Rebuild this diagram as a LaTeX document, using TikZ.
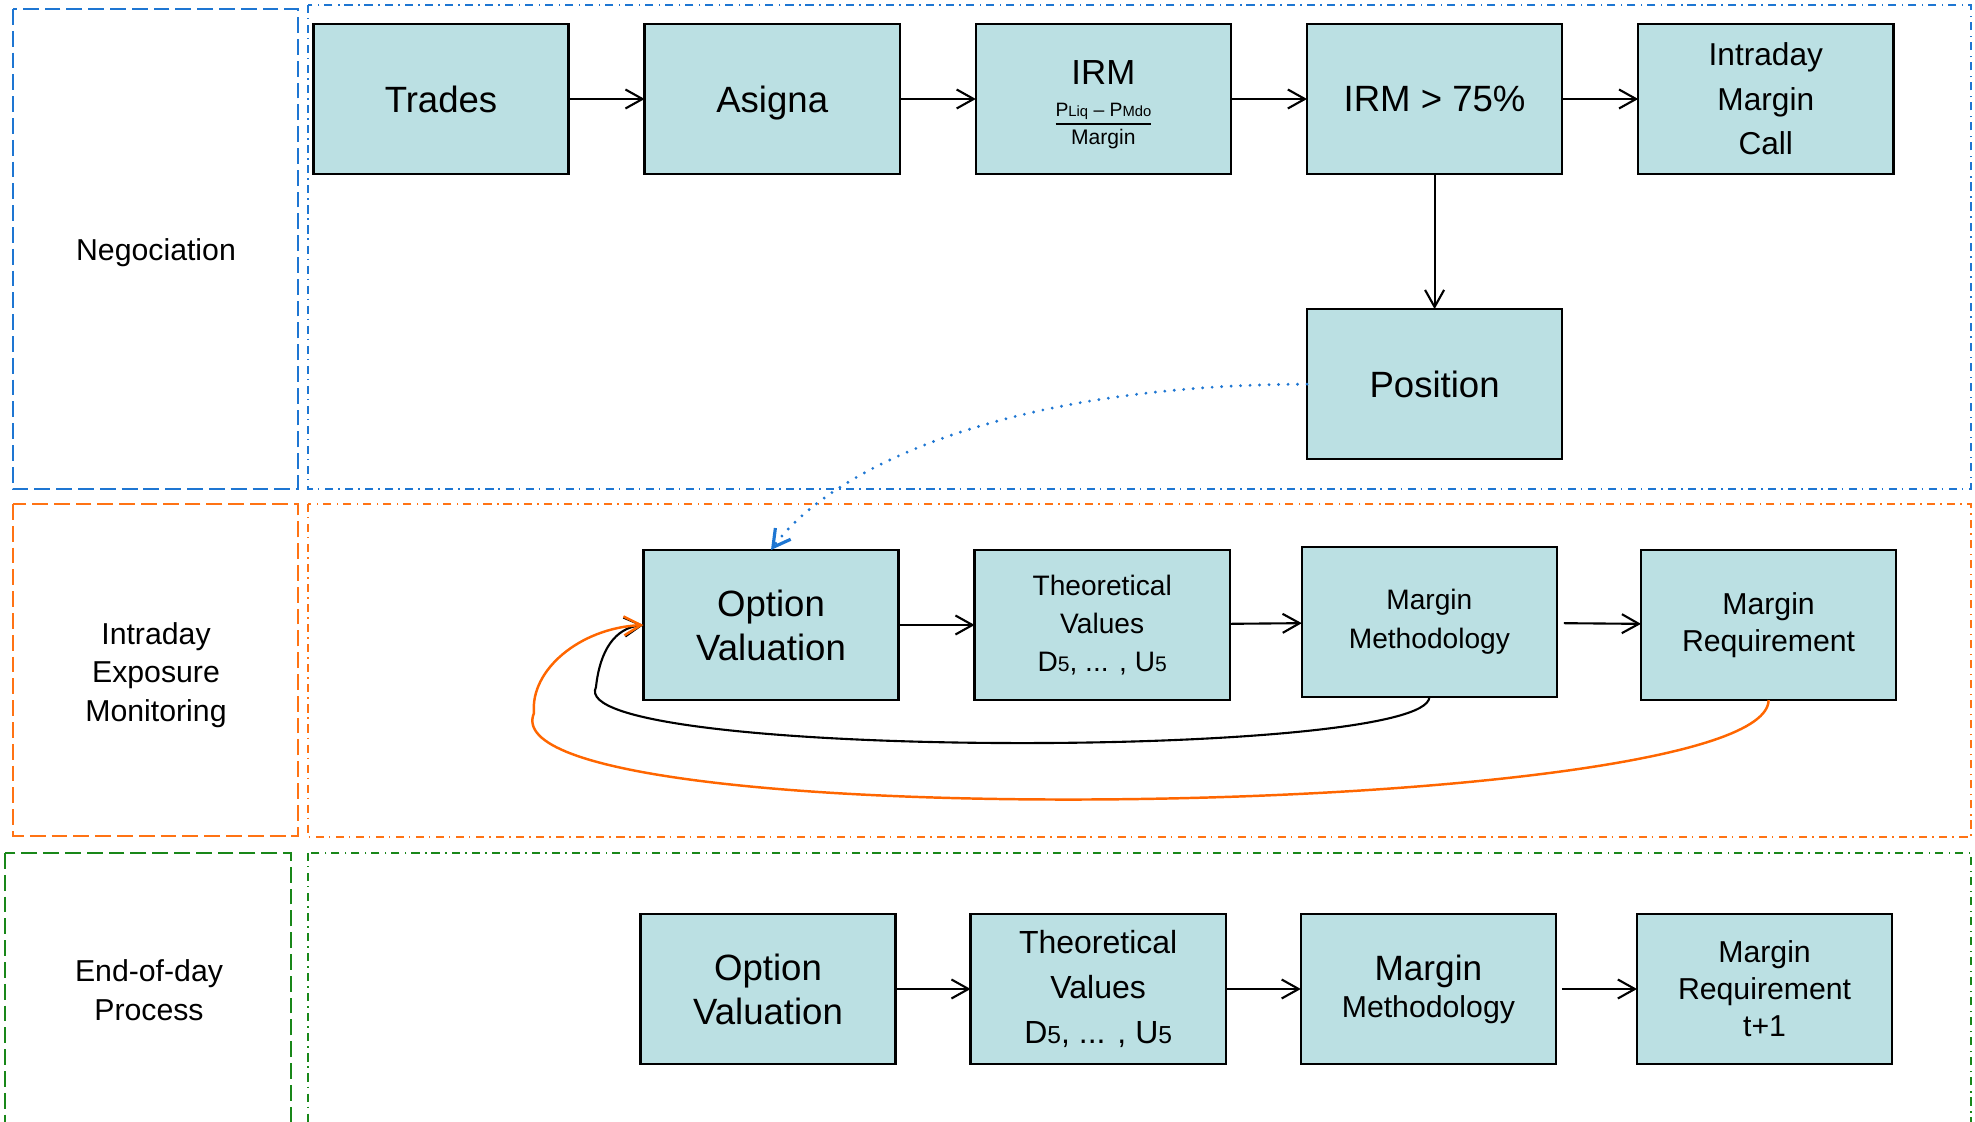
\documentclass[tikz,border=0pt]{standalone}
\usepackage{fontspec}
\setmainfont{Liberation Sans}
\usepackage{tikz}
\usetikzlibrary{positioning,arrows.meta}

\definecolor{boxfill}{RGB}{187,224,227}
\definecolor{laneblue}{RGB}{30,118,210}
\definecolor{laneorange}{RGB}{255,115,20}
\definecolor{lanegreen}{RGB}{25,135,25}
\definecolor{loopred}{RGB}{255,102,0}

\begin{document}
\begin{tikzpicture}[
  x=0.01cm, y=-0.01cm,
  node distance=13.5mm and 7.6mm,
  box/.style={draw, line width=0.65pt, fill=boxfill, minimum width=25.5mm, minimum height=15mm,
    inner sep=0pt, outer sep=0pt, align=center, font=\fontsize{10.4}{12.5}\selectfont},
  small/.style={font=\fontsize{8}{10.9}\selectfont},
  mid/.style={font=\fontsize{8.6}{10.5}\selectfont},
  lanelabel/.style={align=center, font=\fontsize{8.6}{10.9}\selectfont},
  arr/.style={-{Straight Barb[length=1.7mm,width=1.9mm]}, line width=0.6pt},
  lane/.style={line width=0.55pt, dash pattern=on 4.5pt off 1.7pt},
  pool/.style={line width=0.55pt, dash pattern=on 2.3pt off 1.4pt on 0.4pt off 1.6pt}
]
\useasboundingbox (0,0) rectangle (1975,1122);
\clip (0,0) rectangle (1975,1122);

% swimlanes
\draw[lane, laneblue] (13,9) rectangle (298,489);
\draw[pool, laneblue] (308,5) rectangle (1971,489);
\draw[lane, laneorange] (13,504) rectangle (298,836);
\draw[pool, laneorange] (308,504) rectangle (1971,837);
\draw[lane, lanegreen] (5,853) rectangle (291,1150);
\draw[pool, lanegreen] (308,853) rectangle (1971,1150);

\node[lanelabel] (nego) at (156,253) {Negociation};
\node[lanelabel] (intra) at (156,675) {Intraday\\Exposure\\Monitoring};
\node[lanelabel, font=\fontsize{8.6}{11.1}\selectfont] (eod) at (149,990) {End-of-day\\Process};

% negociation
\node[box] (trades) at (441,99) {Trades};
\node[box, text depth=0pt, right=of trades] (asigna) {Asigna};
\node[box, right=of asigna, font=\fontsize{9.9}{12}\selectfont] (irm)
  {\rule{0pt}{10pt}IRM\\[-3pt]{\fontsize{5.5}{8.5}\selectfont\underline{P{\fontsize{4.2}{4.2}\selectfont Liq} – P{\fontsize{4.2}{4.2}\selectfont Mdo}}}\\[-4pt]{\fontsize{6}{7.4}\selectfont Margin}};
\node[box, right=of irm] (irm75) {IRM > 75\%};
\node[box, right=of irm75, font=\fontsize{9}{12.6}\selectfont] (call) {Intraday\\Margin\\Call};
\node[box, below=of irm75] (position) {Position};

\draw[arr] (trades) -- (asigna);
\draw[arr] (asigna) -- (irm);
\draw[arr] (irm) -- (irm75);
\draw[arr] (irm75) -- (call);
\draw[arr] (irm75) -- (position);

% intraday exposure monitoring
\node[box] (ov2) at (771,625) {Option\\Valuation};
\node[box, small, right=of ov2] (tv2)
  {Theoretical\\Values\\D{\fontsize{6}{6}\selectfont 5}, ... , U{\fontsize{6}{6}\selectfont 5}};
\node[box, small, font=\fontsize{8}{11.2}\selectfont, right=7.2mm of tv2, yshift=0.3mm] (mm2) {Margin\\Methodology};
\node[box, mid, right=8.4mm of mm2, yshift=-0.3mm] (mr2) {Margin\\Requirement};

\draw[arr] (ov2) -- (tv2);
\draw[arr] (tv2) -- (mm2);
\draw[arr, shorten <=0.7mm] (mm2) -- (mr2);
\draw[arr] (mm2.south) .. controls (1428,760) and (560,760) .. (596,687)
  .. controls (600,650) and (615,628) .. (ov2.west);
\draw[arr, loopred, line width=0.7pt] (mr2.south) .. controls (1768,820) and (480,840) .. (534,713)
  .. controls (530,670) and (580,628) .. (ov2.west);
\draw[arr, laneblue, line width=0.9pt, line cap=round, dash pattern=on 0pt off 2.7pt] (position.west)
  .. controls (1000,385) and (830,470) .. (ov2.north);

% end-of-day process
\node[box] (ov3) at (768,989) {Option\\Valuation};
\node[box, font=\fontsize{9.1}{12.8}\selectfont, right=7.5mm of ov3] (tv3)
  {Theoretical\\Values\\D{\fontsize{7}{7}\selectfont 5}, ... , U{\fontsize{7}{7}\selectfont 5}};
\node[box, mid, right=7.5mm of tv3] (mm3)
  {{\fontsize{10}{11}\selectfont Margin}\\Methodology};
\node[box, mid, right=8.1mm of mm3] (mr3) {Margin\\Requirement\\t+1};

\draw[arr] (ov3) -- (tv3);
\draw[arr] (tv3) -- (mm3);
\draw[arr, shorten <=0.6mm] (mm3) -- (mr3);
\end{tikzpicture}
\end{document}
